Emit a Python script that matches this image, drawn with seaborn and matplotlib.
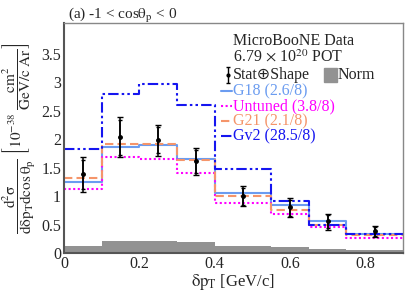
import numpy as np
import pandas as pd
import matplotlib
matplotlib.use("Agg")
import matplotlib.pyplot as plt
import seaborn as sns

# bins in delta pT [GeV/c]
edges = [0.0, 0.1, 0.2, 0.3, 0.4, 0.55, 0.65, 0.75, 0.9]
centers = [0.05, 0.15, 0.25, 0.35, 0.475, 0.6, 0.7, 0.825]

# MicroBooNE data with Stat+Shape errors
data = [1.39, 2.04, 1.98, 1.62, 1.01, 0.81, 0.56, 0.38]
err_lo = [0.31, 0.36, 0.27, 0.24, 0.19, 0.18, 0.15, 0.10]
err_hi = [0.30, 0.35, 0.27, 0.22, 0.17, 0.16, 0.13, 0.10]
# inner (stat only) bars
stat_lo = [0.27, 0.31, 0.23, 0.21, 0.16, 0.15, 0.12, 0.08]
stat_hi = [0.25, 0.30, 0.23, 0.19, 0.14, 0.13, 0.11, 0.08]

# normalisation uncertainty band
norm = [0.13, 0.22, 0.21, 0.19, 0.13, 0.11, 0.08, 0.05]

# generator predictions
g18 = [1.25, 1.87, 1.90, 1.66, 1.06, 0.84, 0.56, 0.34]
untuned = [1.13, 1.68, 1.66, 1.41, 0.88, 0.68, 0.46, 0.27]
g21 = [1.31, 1.92, 1.92, 1.63, 1.00, 0.75, 0.50, 0.31]
gv2 = [1.82, 2.80, 2.97, 2.60, 1.48, 0.91, 0.50, 0.33]

models = [
    ("G18 (2.6/8)", g18, "#6b9cf0", "-"),
    ("Untuned (3.8/8)", untuned, "#ff00ff", (0, (1, 1.2))),
    ("G21 (2.1/8)", g21, "#f5956a", (0, (4, 2))),
    ("Gv2 (28.5/8)", gv2, "#1515f0", (0, (5, 1.5, 1.2, 1.5, 1.2, 1.5))),
]

sns.set_style("white")
plt.rcParams["font.family"] = ["Liberation Serif", "DejaVu Serif"]
plt.rcParams["mathtext.fontset"] = "stix"
plt.rcParams["mathtext.default"] = "rm"

fig = plt.figure(figsize=(4.07, 2.95), dpi=100)
ax = fig.add_axes([0.157, 0.142, 0.833, 0.780])

# norm band
sns.histplot(x=centers, weights=norm, bins=edges, element="step", fill=True,
             color="#929292", alpha=1, linewidth=0, ax=ax)

for label, vals, col, ls in models:
    sns.histplot(x=centers, weights=vals, bins=edges, element="step", fill=False,
                 color=col, linewidth=1.5, linestyle=ls, ax=ax)

ax.errorbar(centers, data, yerr=[err_lo, err_hi], fmt="none", ecolor="black",
            elinewidth=1.1, capsize=2, capthick=1)
ax.errorbar(centers, data, yerr=[stat_lo, stat_hi], fmt="o", color="black",
            ms=2.5, elinewidth=1.1, capsize=1.5, capthick=1)

ax.set_xlim(0, 0.9)
ax.set_ylim(0, 4.04)
ax.set_xticks([0, 0.2, 0.4, 0.6, 0.8])
ax.set_yticks([0, 0.5, 1, 1.5, 2, 2.5, 3, 3.5])
ax.xaxis.set_major_formatter(matplotlib.ticker.FormatStrFormatter("%g"))
ax.yaxis.set_major_formatter(matplotlib.ticker.FormatStrFormatter("%g"))
ax.tick_params(direction="in", length=6, width=1, color="#555555",
               labelsize=11.5, pad=2)
for s in ["left", "bottom"]:
    ax.spines[s].set_color("#555555")
    ax.spines[s].set_linewidth(1.5)
for s in ["top", "right"]:
    ax.spines[s].set_color("#888888")
    ax.spines[s].set_linewidth(1)

ax.set_xlabel(r"$\delta p_{T}$ [GeV/c]", fontsize=12, labelpad=0)
ax.set_ylabel(r"$\dfrac{d^{2}\sigma}{d\delta p_{T}d\cos\theta_{p}}\ \left[10^{-38}\ \dfrac{cm^{2}}{GeV/c\ Ar}\right]$",
              fontsize=11, labelpad=3)
ax.text(0.012, 1.02, r"(a) -1 < cos$\theta_{p}$ < 0", transform=ax.transAxes,
        fontsize=11, ha="left", va="baseline")

# legend drawn by hand
tx = 0.499
fs = 11.5
ax.text(tx, 0.923, "MicroBooNE Data", transform=ax.transAxes, fontsize=fs, va="center")
ax.text(tx, 0.851, r"6.79 $\times$ 10$^{20}$ POT", transform=ax.transAxes, fontsize=fs, va="center")
ax.errorbar([0.484], [0.774], yerr=[[0.035], [0.035]], fmt="o", color="black", ms=2,
            elinewidth=1, capsize=1.5, transform=ax.transAxes, clip_on=False)
ax.text(tx, 0.774, "Stat\u2295Shape", transform=ax.transAxes, fontsize=fs, va="center",
        family=["Liberation Serif", "DejaVu Sans"])
ax.add_patch(plt.Rectangle((0.767, 0.745), 0.038, 0.058, color="#929292",
                           transform=ax.transAxes))
ax.text(0.808, 0.774, "Norm", transform=ax.transAxes, fontsize=fs, va="center")
ys = [0.704, 0.639, 0.574, 0.509]
for (label, vals, col, ls), yy in zip(models, ys):
    ax.plot([0.463, 0.496], [yy, yy], color=col, lw=1.5, linestyle=ls,
            transform=ax.transAxes)
    ax.text(tx, yy, label, color=col, transform=ax.transAxes, fontsize=fs, va="center")

fig.savefig("out.png", dpi=100)
